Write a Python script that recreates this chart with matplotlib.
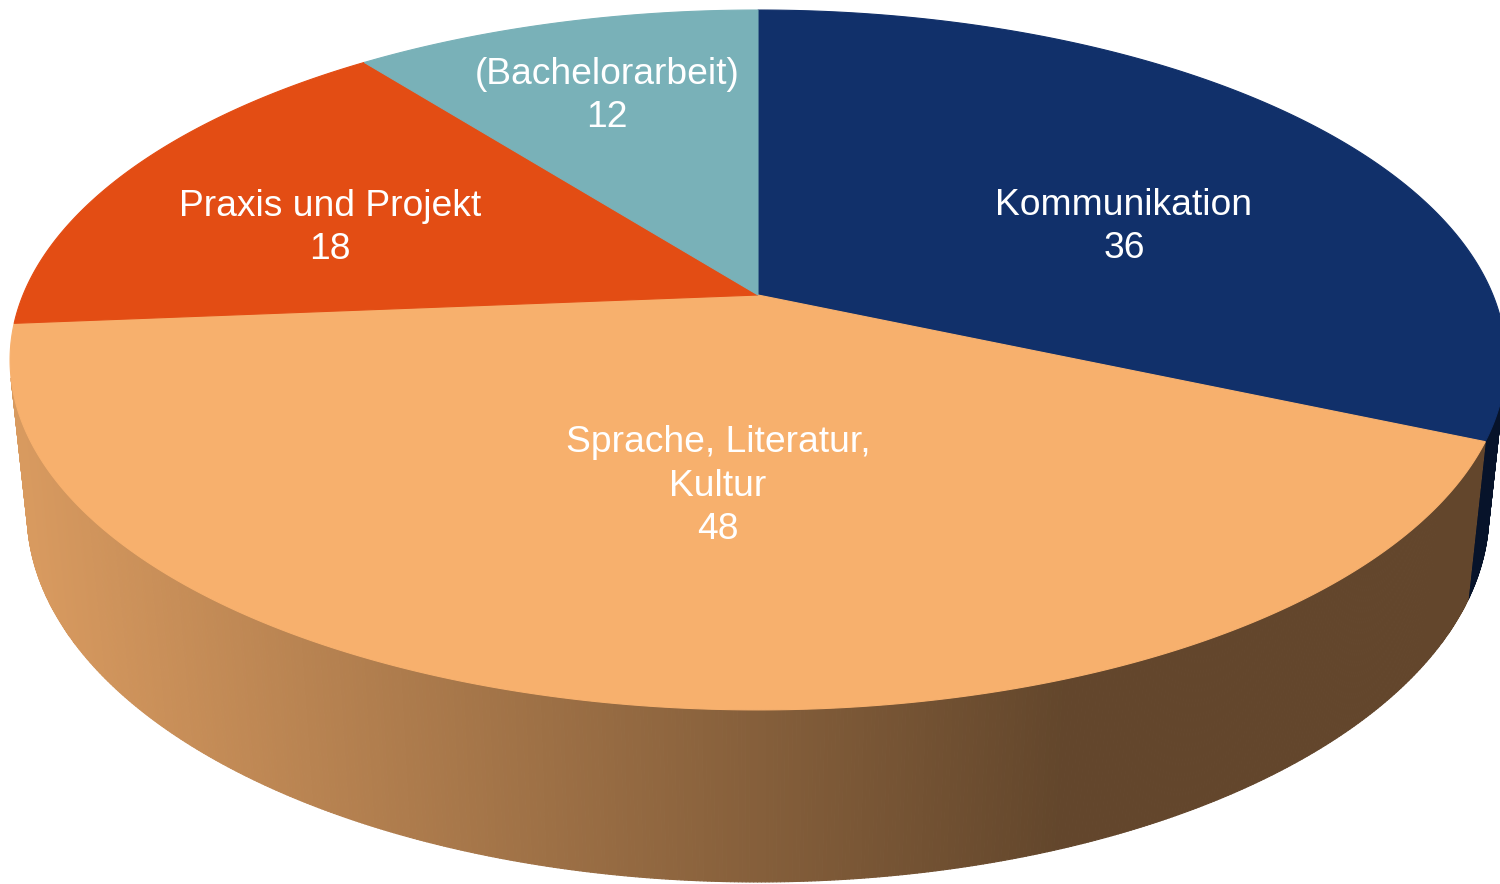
import numpy as np
import matplotlib
matplotlib.use("Agg")
import matplotlib.pyplot as plt
from matplotlib.collections import PolyCollection
from matplotlib.patches import Polygon

# ---- data ----
categories = ["Kommunikation", "Sprache, Literatur,\nKultur", "Praxis und Projekt", "(Bachelorarbeit)"]
values = [36, 48, 18, 12]
colors = ["#11306A", "#F7B06D", "#E34D14", "#79B1B8"]

# ---- layout (pixel space) ----
W, H = 1500, 884
CX, CY = 758.0, 295.0          # projected pie centre
ELEV = np.deg2rad(27.37)       # camera elevation
DIST = 4.784                   # camera distance (pie radius = 1)
FOC = 3516.0                   # focal length in px
THICK = 0.235                  # pie thickness
label_xy = [(1124, 227), (718, 486), (330, 228), (607, 96)]
FONT = 26.8

s, c = np.sin(ELEV), np.cos(ELEV)


def proj(X, Y, Z):
    depth = DIST + Y * c - Z * s
    up = Y * s + Z * c
    return CX + FOC * X / depth, CY - FOC * up / depth


def rim(phi_deg, Z):
    p = np.deg2rad(phi_deg)
    return proj(np.sin(p), np.cos(p), Z)


fig = plt.figure(figsize=(W / 100, H / 100), dpi=100)
ax = fig.add_axes([0, 0, 1, 1])
ax.set_xlim(0, W)
ax.set_ylim(H, 0)
ax.axis("off")

total = float(sum(values))
bounds = np.concatenate([[0.0], np.cumsum(values) / total * 360.0])

# visible side wall: cos(phi) < -1/(D c)
lim = np.rad2deg(np.arccos(-1.0 / (DIST * c)))
vis_lo, vis_hi = lim, 360.0 - lim


def shade(rgb, x):
    f = np.interp(x, [20, 1065], [0.875, 0.40])
    return tuple(np.clip(np.array(rgb) * f, 0, 1))


# ---- side walls ----
polys, fcs = [], []
for i, v in enumerate(values):
    a0, a1 = max(bounds[i], vis_lo), min(bounds[i + 1], vis_hi)
    if a1 <= a0:
        continue
    n = max(2, int((a1 - a0) * 4))
    ph = np.linspace(a0, a1, n + 1)
    base = matplotlib.colors.to_rgb(colors[i])
    for k in range(n):
        x0t, y0t = rim(ph[k], 0)
        x1t, y1t = rim(ph[k + 1], 0)
        x0b, y0b = rim(ph[k], -THICK)
        x1b, y1b = rim(ph[k + 1], -THICK)
        polys.append([(x0t, y0t), (x1t, y1t), (x1b, y1b), (x0b, y0b)])
        fcs.append(shade(base, (x0t + x1t) / 2))
ax.add_collection(PolyCollection(polys, facecolors=fcs, edgecolors=fcs, linewidths=0.8))

# ---- top faces ----
for i, v in enumerate(values):
    a0, a1 = bounds[i], bounds[i + 1]
    ph = np.linspace(a0, a1, max(3, int((a1 - a0) * 3)))
    pts = [proj(0, 0, 0)] + [rim(p, 0) for p in ph]
    ax.add_patch(Polygon(pts, closed=True, facecolor=colors[i], edgecolor=colors[i], lw=0.8))

# ---- labels ----
for i, v in enumerate(values):
    x, y = label_xy[i]
    ax.text(x, y, f"{categories[i]}\n{v}", color="white", fontsize=FONT,
            family=["Liberation Sans", "DejaVu Sans"], ha="center", va="center",
            multialignment="center", linespacing=1.33)

fig.savefig("out.png", dpi=100, facecolor="white")
